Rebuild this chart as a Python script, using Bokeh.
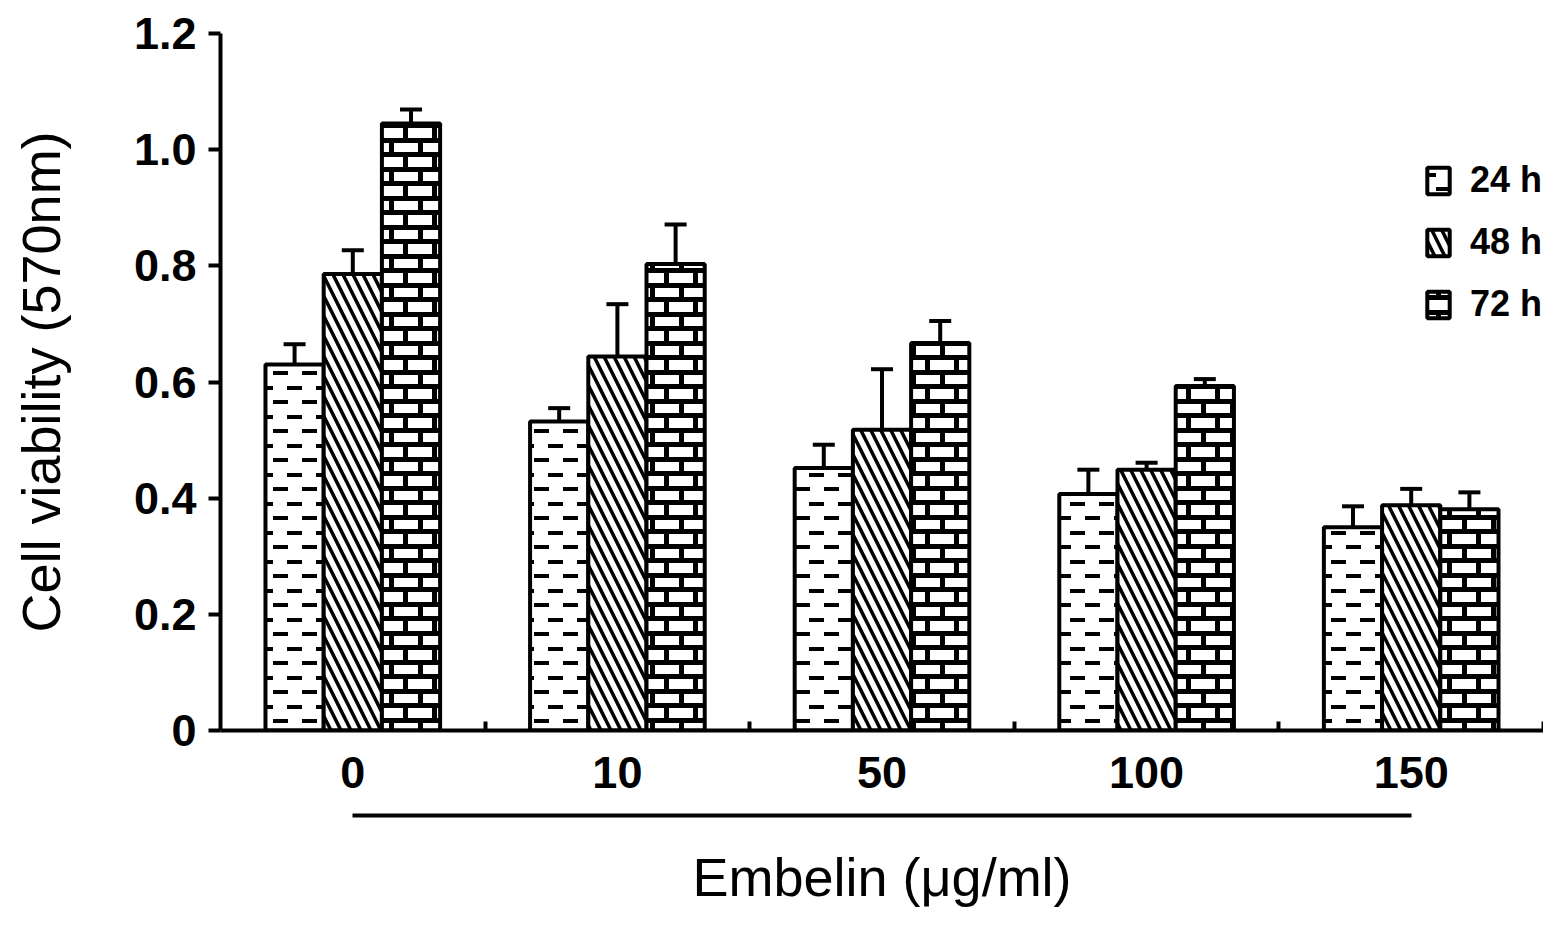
from bokeh.plotting import figure
from bokeh.models import (Range1d, FixedTicker, LinearAxis, Whisker, TeeHead,
                          ColumnDataSource, CanvasTexture, PrintfTickFormatter)
from bokeh.core.properties import value
from bokeh.embed import file_html
from bokeh.resources import INLINE

doses = ["0", "10", "50", "100", "150"]
series = ["24 h", "48 h", "72 h"]

v24 = [0.630, 0.532, 0.452, 0.407, 0.350]
e24 = [0.035, 0.023, 0.040, 0.042, 0.036]
v48 = [0.786, 0.644, 0.518, 0.449, 0.388]
e48 = [0.041, 0.090, 0.104, 0.012, 0.028]
v72 = [1.045, 0.803, 0.667, 0.593, 0.381]
e72 = [0.024, 0.068, 0.038, 0.012, 0.029]

TICK_FONT = "Liberation Sans"
LABEL_FONT = "Liberation Sans"

# the texture canvas comes in too small, so size it to a 29px tile here
TILE = """
const c = ctx.canvas;
c.width = 29;
c.height = 29;
ctx.setTransform(1, 0, 0, 1, 0, 0);
ctx.fillStyle = 'black';
"""

dash_tex = CanvasTexture(code=TILE + """
ctx.fillRect(12, 23, 15, 4);
ctx.fillRect(26, 9, 15, 4);
ctx.fillRect(-3, 9, 15, 4);
""")
brick_tex = CanvasTexture(code=TILE + """
ctx.fillRect(0, 7, 29, 5);
ctx.fillRect(0, 22, 29, 5);
ctx.fillRect(12, 0, 5, 10);
ctx.fillRect(12, 24, 5, 5);
ctx.fillRect(26, 9, 3, 15);
ctx.fillRect(0, 9, 2, 15);
""")

p = figure(width=1543, height=909,
           x_range=Range1d(-0.5, 4.5), y_range=Range1d(0, 1.2),
           output_backend="svg", toolbar_location=None,
           min_border_left=220, min_border_right=0,
           min_border_top=33, min_border_bottom=176)
p.grid.visible = False
p.outline_line_color = None

offsets = [-0.22, 0.0, 0.22]
values = [v24, v48, v72]
errors = [e24, e48, e72]
hatches = [
    dict(hatch_pattern=value("dash"), hatch_extra={"dash": dash_tex}, hatch_scale=29),
    dict(hatch_pattern="left_diagonal_line", hatch_scale=20, hatch_weight=3.5),
    dict(hatch_pattern=value("brick"), hatch_extra={"brick": brick_tex}, hatch_scale=29),
]

wx, wup, wlo = [], [], []
for k in range(3):
    xs = [i + offsets[k] for i in range(len(doses))]
    p.vbar(x=xs, top=values[k], width=0.22, bottom=0,
           fill_color="white", line_color="black", line_width=4,
           hatch_color="black", legend_label=series[k], **hatches[k])
    wx += xs
    wup += [v + e for v, e in zip(values[k], errors[k])]
    wlo += [v - e for v, e in zip(values[k], errors[k])]

wsrc = ColumnDataSource(dict(x=wx, upper=wup, lower=wlo))
p.add_layout(Whisker(source=wsrc, base="x", upper="upper", lower="lower",
                     line_color="black", line_width=4,
                     upper_head=TeeHead(size=22, line_width=4, line_color="black"),
                     lower_head=TeeHead(size=22, line_width=4, line_color="black")))

# x axis: labels under groups, small inner ticks between groups
xa = p.xaxis[0]
xa.ticker = FixedTicker(ticks=list(range(len(doses))),
                        minor_ticks=[0.5, 1.5, 2.5, 3.5, 4.5])
xa.major_label_overrides = {i: d for i, d in enumerate(doses)}
xa.axis_line_width = 4
xa.major_tick_line_color = None
xa.minor_tick_in = 9
xa.minor_tick_out = 0
xa.minor_tick_line_width = 4
xa.major_label_text_font = TICK_FONT
xa.major_label_text_font_style = "bold"
xa.major_label_text_font_size = "45px"
xa.major_label_text_color = "black"
xa.major_label_standoff = 20
xa.axis_label = " "
xa.axis_label_text_font_size = "1px"
xa.axis_label_standoff = 21

# bracket line under the dose labels, carries the x title
ax2 = LinearAxis(bounds=(0, 4), ticker=FixedTicker(ticks=[]),
                 axis_line_width=4, major_tick_line_color=None,
                 minor_tick_line_color=None, major_label_text_font_size="0px",
                 axis_label="Embelin (μg/ml)", axis_label_standoff=31,
                 axis_label_text_font=LABEL_FONT, axis_label_text_font_size="54px",
                 axis_label_text_font_style="normal", axis_label_text_color="black")
p.add_layout(ax2, "below")

ya = p.yaxis[0]
ya.ticker = FixedTicker(ticks=[0, 0.2, 0.4, 0.6, 0.8, 1.0, 1.2])
ya.formatter = PrintfTickFormatter(format="%.1f")
ya.major_label_overrides = {0: "0"}
ya.axis_line_width = 4
ya.major_tick_line_width = 4
ya.major_tick_in = 0
ya.major_tick_out = 12
ya.minor_tick_line_color = None
ya.major_label_text_font = TICK_FONT
ya.major_label_text_font_style = "bold"
ya.major_label_text_font_size = "45px"
ya.major_label_text_color = "black"
ya.major_label_standoff = 12
ya.axis_label = "Cell viability (570nm)"
ya.axis_label_text_font = LABEL_FONT
ya.axis_label_text_font_size = "54px"
ya.axis_label_text_font_style = "normal"
ya.axis_label_text_color = "black"
ya.axis_label_standoff = 60

lg = p.legend[0]
lg.location = (1204, 402)
lg.border_line_color = None
lg.background_fill_alpha = 0
lg.padding = 0
lg.margin = 0
lg.glyph_width = 28
lg.glyph_height = 33
lg.label_height = 48
lg.label_standoff = 18
lg.spacing = 14
lg.label_text_font = TICK_FONT
lg.label_text_font_style = "bold"
lg.label_text_font_size = "36px"
lg.label_text_color = "black"

open("out.html", "w").write(file_html(p, INLINE))
